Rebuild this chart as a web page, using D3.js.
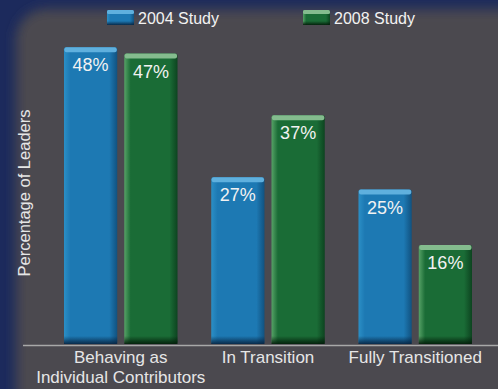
<!DOCTYPE html>
<html><head><meta charset="utf-8">
<script src="https://cdn.jsdelivr.net/npm/d3@7"></script>
<style>html,body{margin:0;padding:0;background:#1c2a5c;overflow:hidden}</style>
</head><body>
<script>
const categories = [["Behaving as","Individual Contributors"],["In Transition"],["Fully Transitioned"]];
const seriesNames = ["2004 Study","2008 Study"];
const study2004 = [48, 27, 25];
const study2008 = [47, 37, 16];
const W = 498, H = 389;

const svg = d3.select("body").append("svg").attr("width", W).attr("height", H);
const defs = svg.append("defs");

// background
const blur = defs.append("filter").attr("id","blur").attr("x","-20%").attr("y","-20%").attr("width","140%").attr("height","140%");
blur.append("feGaussianBlur").attr("stdDeviation", 6);
svg.append("rect").attr("width", W).attr("height", H).attr("fill", "#1c2a5c");
svg.append("rect").attr("x", 16).attr("y", 9).attr("width", W + 40).attr("height", H + 40)
  .attr("rx", 30).attr("fill", "#4b4a4f").attr("filter", "url(#blur)");

const colors = {
  "2004 Study": {left:"#2b8fc6", mid:"#1d79b3", right:"#115280", top:"#5fb0de", bottom:"#06223f"},
  "2008 Study": {left:"#56a266", mid:"#1a6c36", right:"#0d4420", top:"#84bc8e", bottom:"#021a08"}
};
seriesNames.forEach((s, i) => {
  const c = colors[s];
  const g = defs.append("linearGradient").attr("id", "body" + i).attr("x1", 0).attr("x2", 1).attr("y1", 0).attr("y2", 0);
  g.append("stop").attr("offset", "0").attr("stop-color", c.left);
  g.append("stop").attr("offset", "0.12").attr("stop-color", c.mid);
  g.append("stop").attr("offset", "0.85").attr("stop-color", c.mid);
  g.append("stop").attr("offset", "1").attr("stop-color", c.right);
  const b = defs.append("linearGradient").attr("id", "bot" + i).attr("x1", 0).attr("x2", 0).attr("y1", 0).attr("y2", 1);
  b.append("stop").attr("offset", "0").attr("stop-color", c.bottom).attr("stop-opacity", 0);
  b.append("stop").attr("offset", "1").attr("stop-color", c.bottom).attr("stop-opacity", 0.9);
});

const x0 = d3.scaleBand().domain(d3.range(categories.length)).range([64, 472]).paddingInner(0.229).paddingOuter(0);
const x1 = d3.scaleBand().domain(seriesNames).range([0, x0.bandwidth()]).paddingInner(0.117).paddingOuter(0);
const y = d3.scaleLinear().domain([0, 50]).range([344, 35]);

const data = [];
categories.forEach((c, ci) => {
  data.push({ci, s: seriesNames[0], si: 0, v: study2004[ci]});
  data.push({ci, s: seriesNames[1], si: 1, v: study2008[ci]});
});

const bars = svg.append("g").selectAll("g").data(data).join("g")
  .attr("transform", d => `translate(${x0(d.ci) + x1(d.s)},0)`);
bars.append("rect").attr("x", 0).attr("y", d => y(d.v)).attr("width", x1.bandwidth())
  .attr("height", d => y(0) - y(d.v)).attr("rx", 2).attr("fill", d => `url(#body${d.si})`);
bars.append("rect").attr("x", 0).attr("y", d => y(0) - 8).attr("width", x1.bandwidth())
  .attr("height", 8).attr("fill", d => `url(#bot${d.si})`);
bars.append("rect").attr("x", 0.5).attr("y", d => y(d.v)).attr("width", x1.bandwidth() - 1)
  .attr("height", 5).attr("rx", 2).attr("fill", d => colors[d.s].top);
bars.append("text").attr("x", x1.bandwidth() / 2).attr("y", d => y(d.v) + 24)
  .attr("text-anchor", "middle").attr("fill", "#f2f2f2")
  .style("font-family", "Liberation Sans, Arial, sans-serif").style("font-size", "18px")
  .text(d => d.v + "%");

// axis baseline
svg.append("line").attr("x1", 23).attr("x2", W).attr("y1", y(0) + 1.5).attr("y2", y(0) + 1.5)
  .attr("stroke", "#a8a8a8").attr("stroke-width", 1.5);

// category labels
const cl = svg.append("g").selectAll("text").data(categories).join("text")
  .attr("x", (d, i) => x0(i) + x0.bandwidth() / 2).attr("y", 363)
  .attr("text-anchor", "middle").attr("fill", "#e6e6e6")
  .style("font-family", "Liberation Sans, Arial, sans-serif").style("font-size", "17px");
cl.selectAll("tspan").data(d => d).join("tspan")
  .attr("x", function() { return d3.select(this.parentNode).attr("x"); })
  .attr("dy", (d, i) => i === 0 ? 0 : 20).text(d => d);

// y label
svg.append("text").attr("transform", "translate(30,193) rotate(-90)")
  .attr("text-anchor", "middle").attr("fill", "#e6e6e6")
  .style("font-family", "Liberation Sans, Arial, sans-serif").style("font-size", "16.5px")
  .text("Percentage of Leaders");

// legend
const legX = [107, 303];
const lg = svg.append("g").selectAll("g").data(seriesNames).join("g")
  .attr("transform", (d, i) => `translate(${legX[i]},10)`);
lg.append("rect").attr("width", 27).attr("height", 15).attr("rx", 1.5).attr("fill", (d, i) => `url(#body${i})`);
lg.append("rect").attr("width", 27).attr("height", 4).attr("rx", 1.5).attr("fill", d => colors[d].top);
lg.append("rect").attr("y", 11).attr("width", 27).attr("height", 4).attr("fill", (d, i) => `url(#bot${i})`);
lg.append("text").attr("x", 31).attr("y", 14).attr("fill", "#f2f2f2")
  .style("font-family", "Liberation Sans, Arial, sans-serif").style("font-size", "16px")
  .text(d => d);
</script>
</body></html>
